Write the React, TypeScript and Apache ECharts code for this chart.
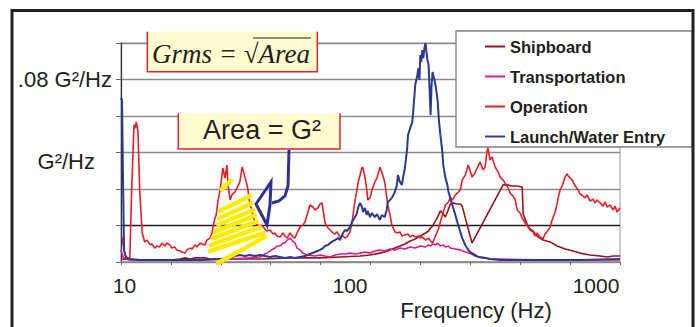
import React, { useEffect, useRef } from 'react';
import * as echarts from 'echarts';

// ---- data (frequency in Hz, PSD in G^2/Hz) ----
const seriesNames = ['Shipboard', 'Transportation', 'Operation', 'Launch/Water Entry'];
const seriesColors = ['#9B111E', '#E6168C', '#ED1C24', '#2B3990'];

const shipboard: [number, number][] = [
  [10.0, 0.0013], [12.0, 0.0009], [16.1, 0.0009], [17.8, 0.0013], [18.7, 0.0018], [19.6, 0.0013], [20.6, 0.0018],
  [22.7, 0.0018], [23.8, 0.0013], [31.9, 0.0013], [38.8, 0.0013], [52.0, 0.0018], [69.7, 0.0018], [84.7, 0.0022],
  [103, 0.0026], [113.5, 0.0031], [125, 0.0039], [131, 0.0044], [138, 0.0053], [144.7, 0.0061], [152, 0.0070],
  [159.5, 0.0079], [168, 0.0092], [176.5, 0.0101], [185.5, 0.0114], [195, 0.0127], [201, 0.0136], [205, 0.0149],
  [209, 0.0158], [215, 0.0180], [219.5, 0.0197], [225.5, 0.0224], [230, 0.0215], [237, 0.0197], [241.5, 0.0219],
  [248.5, 0.0254], [256, 0.0259], [264, 0.0254], [274, 0.0254], [279, 0.0245], [307, 0.0083], [416, 0.0338],
  [433, 0.0338], [454, 0.0333], [477, 0.0333], [501, 0.0329], [506, 0.0210], [527, 0.0162], [541, 0.0145],
  [557, 0.0136], [579, 0.0114], [614, 0.0096], [658, 0.0088], [705, 0.0070], [762, 0.0057], [824, 0.0048],
  [881, 0.0039], [971, 0.0031], [1071, 0.0026], [1147, 0.0022], [1216, 0.0026], [1301, 0.0026],
];

const transportation: [number, number][] = [
  [10.0, 0.0053], [10.2, 0.0022], [10.5, 0.0013], [10.9, 0.0009], [21.6, 0.0009], [29.0, 0.0013], [35.2, 0.0018],
  [38.8, 0.0022], [40.0, 0.0031], [40.7, 0.0035], [41.5, 0.0039], [42.8, 0.0048], [44.1, 0.0057], [44.9, 0.0061],
  [45.8, 0.0070], [47.2, 0.0070], [48.6, 0.0083], [49.5, 0.0083], [50.5, 0.0096], [51.5, 0.0101], [52.0, 0.0105],
  [53.1, 0.0096], [53.6, 0.0088], [54.6, 0.0083], [55.7, 0.0061], [57.3, 0.0053], [59.0, 0.0039], [60.2, 0.0035],
  [62.0, 0.0031], [66.4, 0.0026], [69.7, 0.0031], [73.2, 0.0026], [76.9, 0.0022], [80.7, 0.0031], [84.7, 0.0035],
  [88.9, 0.0035], [93.4, 0.0039], [98.1, 0.0035], [103, 0.0039], [108, 0.0044], [113.5, 0.0039], [119, 0.0048],
  [125, 0.0053], [131, 0.0048], [138, 0.0057], [144.7, 0.0053], [152, 0.0061], [159.5, 0.0057], [168, 0.0066],
  [176.5, 0.0061], [185.5, 0.0070], [195, 0.0066], [201, 0.0075], [205, 0.0070], [209, 0.0079], [215, 0.0075],
  [219.5, 0.0083], [225.5, 0.0070], [232, 0.0075], [237, 0.0066], [244, 0.0070], [248.5, 0.0061], [261, 0.0057],
  [274, 0.0053], [287.5, 0.0044], [301, 0.0039], [316, 0.0026], [332, 0.0022], [349, 0.0018], [366, 0.0013],
  [404, 0.0013], [658, 0.0009], [1301, 0.0009],
];

const operation: [number, number][] = [
  [10.1, 0.0110], [10.3, 0.0053], [10.5, 0.0018], [10.7, 0.0013], [10.9, 0.0022], [11.1, 0.0316], [11.35, 0.0601],
  [11.5, 0.0587], [11.6, 0.0614], [11.7, 0.0596], [11.8, 0.0574], [12.0, 0.0316], [12.3, 0.0127], [12.6, 0.0088],
  [12.9, 0.0096], [13.3, 0.0075], [13.5, 0.0079], [13.9, 0.0061], [14.2, 0.0070], [14.6, 0.0066], [14.9, 0.0083],
  [15.4, 0.0070], [15.6, 0.0083], [16.1, 0.0075], [16.4, 0.0061], [16.9, 0.0066], [17.2, 0.0053], [17.8, 0.0048],
  [18.1, 0.0044], [18.7, 0.0039], [19.0, 0.0053], [19.6, 0.0061], [20.0, 0.0057], [20.6, 0.0075], [21.0, 0.0066],
  [21.6, 0.0083], [22.0, 0.0079], [22.7, 0.0075], [23.1, 0.0096], [23.8, 0.0105], [24.3, 0.0127], [24.5, 0.0149],
  [25.0, 0.0193], [25.3, 0.0206], [25.8, 0.0272], [26.3, 0.0316], [26.8, 0.0381], [27.0, 0.0412], [27.6, 0.0368],
  [28.1, 0.0425], [28.4, 0.0338], [29.0, 0.0272], [29.5, 0.0294], [30.4, 0.0307], [31.0, 0.0324], [31.9, 0.0351],
  [32.6, 0.0416], [32.9, 0.0403], [33.5, 0.0373], [34.2, 0.0338], [34.5, 0.0316], [35.2, 0.0250], [35.9, 0.0228],
  [36.2, 0.0206], [36.9, 0.0175], [37.6, 0.0167], [38.8, 0.0149], [39.6, 0.0158], [40.7, 0.0145], [41.5, 0.0136],
  [42.8, 0.0140], [44.1, 0.0123], [44.9, 0.0127], [45.8, 0.0114], [47.2, 0.0110], [48.6, 0.0127], [49.5, 0.0114],
  [50.5, 0.0105], [52.0, 0.0127], [53.6, 0.0110], [54.6, 0.0105], [55.7, 0.0127], [57.3, 0.0153], [59.0, 0.0162],
  [60.2, 0.0175], [61.4, 0.0206], [63.2, 0.0250], [65.1, 0.0241], [66.4, 0.0228], [68.3, 0.0237], [69.7, 0.0254],
  [71.1, 0.0259], [73.2, 0.0171], [75.4, 0.0149], [76.9, 0.0140], [79.1, 0.0127], [80.7, 0.0123], [82.3, 0.0132],
  [84.7, 0.0110], [87.2, 0.0114], [88.9, 0.0105], [90.7, 0.0110], [93.4, 0.0132], [95.2, 0.0171], [98.1, 0.0272],
  [100, 0.0316], [101, 0.0346], [103, 0.0381], [105, 0.0416], [106, 0.0412], [108, 0.0373], [110, 0.0316],
  [111, 0.0272], [113.5, 0.0281], [115.7, 0.0316], [119, 0.0351], [121.5, 0.0368], [125, 0.0416], [128.5, 0.0381],
  [131, 0.0351], [135, 0.0250], [138, 0.0206], [140.5, 0.0162], [144.7, 0.0132], [149, 0.0127], [152, 0.0132],
  [155, 0.0114], [159.5, 0.0118], [164.5, 0.0123], [168, 0.0110], [171.5, 0.0118], [176.5, 0.0110], [182, 0.0114],
  [185.5, 0.0105], [189, 0.0110], [195, 0.0096], [201, 0.0105], [205, 0.0092], [209, 0.0083], [215, 0.0114],
  [222, 0.0149], [225.5, 0.0175], [230, 0.0206], [237, 0.0250], [244, 0.0263], [248.5, 0.0281], [253.5, 0.0272],
  [261, 0.0294], [269, 0.0307], [274, 0.0316], [279, 0.0359], [287.5, 0.0381], [296, 0.0425], [301, 0.0403],
  [307, 0.0373], [316, 0.0390], [326, 0.0421], [332, 0.0438], [342, 0.0403], [349, 0.0416], [355, 0.0482],
  [359, 0.0500], [366, 0.0447], [373, 0.0460], [385, 0.0416], [396, 0.0395], [404, 0.0373], [416, 0.0359],
  [424, 0.0346], [437, 0.0324], [445, 0.0302], [459, 0.0289], [468, 0.0272], [477, 0.0228], [491, 0.0215],
  [501, 0.0193], [516, 0.0171], [527, 0.0158], [541, 0.0140], [557, 0.0132], [568, 0.0114], [579, 0.0127],
  [596, 0.0110], [614, 0.0101], [626, 0.0123], [638, 0.0132], [658, 0.0153], [671, 0.0184], [691, 0.0219],
  [705, 0.0259], [712, 0.0281], [725, 0.0316], [740, 0.0333], [762, 0.0373], [777, 0.0386], [785, 0.0377],
  [800, 0.0368], [816, 0.0359], [840, 0.0333], [865, 0.0316], [881, 0.0298], [908, 0.0289], [925, 0.0281],
  [944, 0.0294], [971, 0.0267], [1000, 0.0276], [1020, 0.0259], [1040, 0.0272], [1071, 0.0259], [1103, 0.0245],
  [1125, 0.0263], [1147, 0.0241], [1180, 0.0250], [1216, 0.0228], [1240, 0.0245], [1264, 0.0219], [1301, 0.0237],
];

const launch: [number, number][] = [
  [10.0, 0.0719], [10.1, 0.0710], [10.2, 0.0359], [10.3, 0.0053], [10.4, 0.0031], [10.6, 0.0018], [10.9, 0.0013],
  [12.0, 0.0009], [14.6, 0.0009], [17.8, 0.0009], [21.6, 0.0009], [26.3, 0.0013], [29.0, 0.0018], [30.4, 0.0026],
  [31.9, 0.0031], [33.5, 0.0026], [35.2, 0.0031], [36.9, 0.0026], [38.8, 0.0031], [40.7, 0.0026], [42.8, 0.0022],
  [44.9, 0.0026], [47.2, 0.0022], [49.5, 0.0018], [52.0, 0.0022], [54.6, 0.0018], [57.3, 0.0022], [60.2, 0.0026],
  [63.2, 0.0035], [66.4, 0.0044], [69.7, 0.0053], [71.8, 0.0061], [73.2, 0.0070], [75.4, 0.0075], [76.9, 0.0083],
  [79.1, 0.0092], [80.7, 0.0096], [83.1, 0.0105], [84.7, 0.0096], [87.2, 0.0127], [88.9, 0.0140], [90.7, 0.0136],
  [93.4, 0.0153], [95.2, 0.0175], [98.1, 0.0197], [100, 0.0215], [101, 0.0237], [103, 0.0259], [105, 0.0241],
  [106, 0.0219], [108, 0.0237], [110, 0.0206], [111, 0.0224], [113.5, 0.0197], [115.7, 0.0215], [119, 0.0197],
  [121.5, 0.0210], [125, 0.0184], [127.3, 0.0206], [131, 0.0197], [133.6, 0.0228], [135, 0.0263], [138, 0.0272],
  [140.5, 0.0281], [144.7, 0.0307], [147.6, 0.0338], [149, 0.0381], [152, 0.0351], [155, 0.0338], [156.6, 0.0368],
  [159.5, 0.0412], [162.9, 0.0491], [164.5, 0.0557], [168, 0.0587], [171.5, 0.0614], [173.2, 0.0666], [176.5, 0.0776],
  [180.2, 0.0820], [182, 0.0850], [183.8, 0.0798], [185.5, 0.0907], [187.3, 0.0877], [189, 0.0929], [191, 0.0894],
  [193, 0.0938], [195, 0.0960], [196.9, 0.0921], [198.8, 0.0886], [201, 0.0864], [203, 0.0754], [205, 0.0644],
  [207, 0.0776], [209, 0.0833], [213, 0.0798], [215, 0.0776], [219.5, 0.0710], [222, 0.0631], [225.5, 0.0557],
  [230, 0.0482], [232, 0.0425], [237, 0.0368], [241.5, 0.0338], [244, 0.0307], [248.5, 0.0281], [253.5, 0.0250],
  [261, 0.0206], [266, 0.0175], [274, 0.0132], [279, 0.0105], [287.5, 0.0075], [296, 0.0053], [301, 0.0044],
  [316, 0.0031], [326, 0.0022], [349, 0.0018], [366, 0.0013], [404, 0.0009], [596, 0.0009], [881, 0.0009],
  [1301, 0.0013],
];

const xTickLabels = [10, 100, 1000];
const yLabelValue = 0.08;
const yUnit = 'G²/Hz';

export default function App() {
  const ref = useRef<HTMLDivElement>(null);

  useEffect(() => {
    if (!ref.current) return;
    const chart = echarts.init(ref.current, undefined, { renderer: 'svg' });
    const sans = '"Liberation Sans", Arial, Helvetica, sans-serif';
    const serif = '"Liberation Serif", "Times New Roman", serif';
    const ink = '#231F20';
    const boxFill = '#FFFDD0';
    const boxRed = '#E8202A';
    const yellow = '#FFEC00';
    const arrowBlue = '#2E3192';
    const allData = [shipboard, transportation, operation, launch];

    const hatch = [
      [221.7, 189.3, 230.7, 180.7],
      [220, 210.7, 250, 196],
      [219.3, 218.3, 251.7, 203.3],
      [218.3, 224.5, 253.3, 210],
      [215, 231.7, 255, 215.5],
      [212.7, 238.3, 256.5, 221.7],
      [210.7, 245, 260, 227.3],
      [210, 251, 263.3, 233.3],
      [218, 263, 265, 237],
    ];

    const textStyle = (extra: any) => ({
      fill: ink,
      fontFamily: sans,
      ...extra,
      textAlign: extra.align,
      textVerticalAlign: extra.verticalAlign,
    });

    const xLabelRich = {
      l0: { fontSize: 21, color: ink, fontFamily: sans, padding: [0, 0, 0, 7] },
      l1: { fontSize: 21, color: ink, fontFamily: sans, padding: [0, 14, 0, 0] },
      l2: { fontSize: 21, color: ink, fontFamily: sans, padding: [0, 0, 0, 6] },
    };

    const option: any = {
      animation: false,
      backgroundColor: '#ffffff',
      grid: { left: 121, right: 79, top: 43, bottom: 65, show: true, borderColor: '#9a9a9a', borderWidth: 1 },
      legend: {
        data: seriesNames,
        orient: 'vertical',
        left: 485,
        top: 38,
        padding: 0,
        itemWidth: 20,
        itemHeight: 2,
        itemGap: 13,
        icon: 'rect',
        selectedMode: false,
        z: 100,
        textStyle: { fontSize: 16.5, fontWeight: 'bold', color: ink, fontFamily: sans },
      },
      xAxis: [
        {
          type: 'log',
          logBase: 10,
          min: 10,
          max: 1301,
          axisLine: { show: true, onZero: false, lineStyle: { color: '#8a8a8a', width: 1.5 } },
          axisTick: { show: false },
          minorTick: { show: false },
          splitLine: { show: false },
          axisLabel: {
            fontSize: 21,
            color: ink,
            fontFamily: sans,
            margin: 13,
            rich: xLabelRich,
            formatter: (v: number) => {
              const r = Math.round(v);
              const idx = xTickLabels.indexOf(r);
              return idx >= 0 ? `{l${idx}|${r}}` : '';
            },
          },
        },
        {
          type: 'value',
          min: 0,
          max: 10,
          interval: 1,
          position: 'bottom',
          axisLine: { show: false },
          axisTick: { show: true, length: 3, lineStyle: { color: '#666', width: 1 } },
          axisLabel: { show: false },
          splitLine: { show: false },
        },
      ],
      yAxis: {
        type: 'value',
        min: 0,
        max: 0.096,
        interval: 0.016,
        axisLine: { show: true, lineStyle: { color: '#333', width: 1.2 } },
        axisTick: { show: true, length: 5, lineStyle: { color: '#666' } },
        axisLabel: {
          fontSize: 22,
          color: ink,
          fontFamily: sans,
          margin: 9,
          padding: [0, 0, 8, 0],
          formatter: (v: number) =>
            Math.abs(v - yLabelValue) < 1e-6 ? `${String(yLabelValue).replace(/^0/, '')} ${yUnit}` : '',
        },
        splitLine: {
          show: true,
          lineStyle: { color: ['#8c8c8c', '#231F20', '#8c8c8c', '#8c8c8c', '#8c8c8c', '#8c8c8c', '#8c8c8c'], width: 1.4 },
        },
      },
      series: seriesNames.map((name, i) => ({
        name,
        type: 'line',
        data: allData[i],
        showSymbol: false,
        symbol: 'none',
        xAxisIndex: 0,
        yAxisIndex: 0,
        z: 3,
        lineStyle: { color: seriesColors[i], width: i === 3 ? 2 : 1.6 },
        itemStyle: { color: seriesColors[i] },
      })),
      graphic: {
        elements: [
          // legend frame
          { type: 'rect', z: 50, shape: { x: 456, y: 31, width: 236, height: 116 }, style: { fill: '#ffffff', stroke: '#808080', lineWidth: 1.3 } },
          // Grms box
          { type: 'rect', z: 20, shape: { x: 147.3, y: 31.7, width: 170, height: 40 }, style: { fill: boxFill } },
          { type: 'polyline', z: 21, shape: { points: [[147.3, 31.7], [147.3, 71.7], [317.3, 71.7], [317.3, 31.7]] }, style: { stroke: boxRed, lineWidth: 1.5, fill: 'none' } },
          { type: 'text', z: 22, x: 152, y: 54, style: textStyle({ text: 'Grms = √Area', fontSize: 27, fontStyle: 'italic', fontFamily: serif, align: 'left', verticalAlign: 'middle' }) },
          { type: 'line', z: 22, shape: { x1: 253, y1: 38, x2: 311, y2: 38 }, style: { stroke: ink, lineWidth: 1.2 } },
          // Area box
          { type: 'rect', z: 20, shape: { x: 178.3, y: 113.3, width: 161.7, height: 35.7 }, style: { fill: boxFill } },
          { type: 'polyline', z: 21, shape: { points: [[178.3, 113.3], [178.3, 149], [340, 149], [340, 113.3]] }, style: { stroke: boxRed, lineWidth: 1.5, fill: 'none' } },
          { type: 'text', z: 22, x: 262, y: 129.5, style: textStyle({ text: 'Area = G²', fontSize: 27, align: 'center', verticalAlign: 'middle' }) },
          // hatch
          ...hatch.map((h) => ({ type: 'line', z: 15, shape: { x1: h[0], y1: h[1], x2: h[2], y2: h[3] }, style: { stroke: yellow, lineWidth: 4.5, lineCap: 'round' } })),
          // arrow
          { type: 'polyline', z: 16, shape: { points: [[289, 150], [288, 186], [285, 196], [279, 201], [272, 203]] }, style: { stroke: arrowBlue, lineWidth: 3, fill: 'none' } },
          { type: 'polygon', z: 16, shape: { points: [[270, 205], [271, 182], [256, 204], [267, 225]] }, style: { stroke: arrowBlue, lineWidth: 3, fill: 'none', lineJoin: 'miter' } },
          // axis texts
          { type: 'text', z: 22, x: 95, y: 161, style: textStyle({ text: yUnit, fontSize: 22, align: 'right', verticalAlign: 'middle' }) },
          { type: 'text', z: 22, x: 476, y: 310, style: textStyle({ text: 'Frequency (Hz)', fontSize: 22, align: 'center', verticalAlign: 'middle' }) },
          // outer frame
          { type: 'rect', z: 200, shape: { x: 12, y: 10.5, width: 681, height: 330 }, style: { fill: 'none', stroke: ink, lineWidth: 3 } },
        ],
      },
    };

    chart.setOption(option);
    return () => chart.dispose();
  }, []);

  return (
    <div
      ref={ref}
      style={{ position: 'fixed', left: 0, top: 0, width: 699, height: 327, background: '#fff' }}
    />
  );
}
